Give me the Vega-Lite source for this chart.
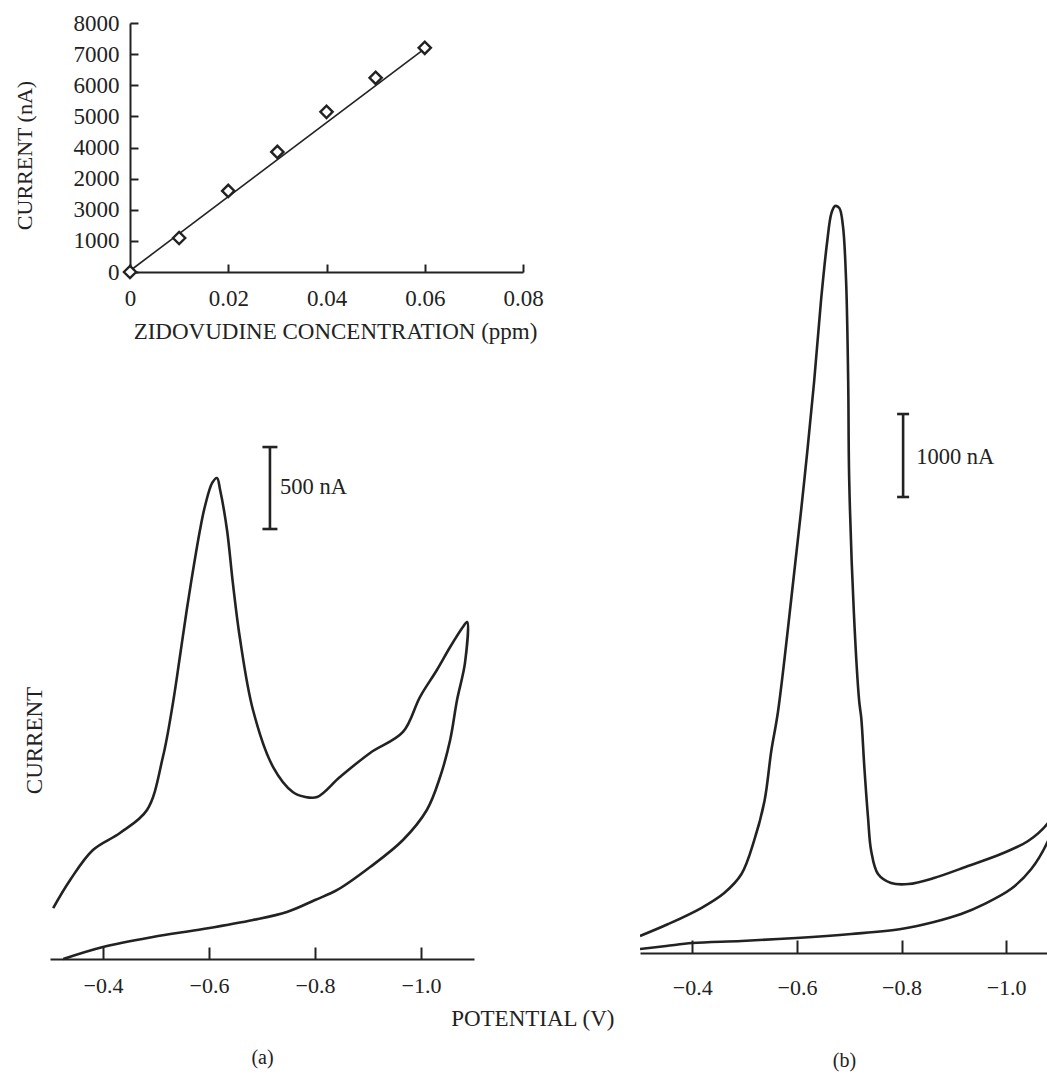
{
  "$schema": "https://vega.github.io/schema/vega-lite/v6.json",
  "background": "white",
  "padding": {"left": 13, "top": 12, "right": 0, "bottom": 2},
  "config": {
    "view": {"stroke": null},
    "font": "Liberation Serif",
    "axis": {"grid": false, "domainColor": "#222", "tickColor": "#222", "labelColor": "#222", "titleColor": "#222", "labelFont": "Liberation Serif", "titleFont": "Liberation Serif", "titleFontWeight": "normal", "labelFontSize": 22, "titleFontSize": 22, "domainWidth": 2, "tickWidth": 2}
  },
  "spacing": 25,
  "hconcat": [
    {
      "columns": 1,
      "align": "none",
      "spacing": 77,
      "concat": [
        {
          "width": 473,
          "height": 249,
          "encoding": {
            "x": {"field": "conc", "type": "quantitative", "scale": {"domain": [0, 0.08], "range": [80, 473], "nice": false, "zero": false},
              "axis": {"title": "ZIDOVUDINE CONCENTRATION (ppm)", "values": [0, 0.02, 0.04, 0.06, 0.08], "labelExpr": "datum.value == 0 ? '0' : format(datum.value, '.2f')", "tickSize": -8, "labelPadding": 23, "titlePadding": 10, "titleX": 285, "labelFontSize": 23, "titleFontSize": 23, "labelFlush": false}},
            "y": {"field": "current", "type": "quantitative", "scale": {"domain": [0, 8000], "nice": false},
              "axis": {"title": "CURRENT (nA)", "offset": -80, "values": [0, 1000, 2000, 3000, 4000, 5000, 6000, 7000, 8000], "labelExpr": "datum.value == 2000 ? '3000' : datum.value == 3000 ? '2000' : format(datum.value, 'd')", "tickSize": -8, "labelPadding": 19, "titlePadding": 37, "labelFontSize": 23, "titleY": 132, "labelFlush": false}}
          },
          "layer": [
            {
              "data": {"values": [{"conc": 0, "current": 40}, {"conc": 0.06, "current": 7180}]},
              "mark": {"type": "line", "color": "#222", "strokeWidth": 1.6}
            },
            {
              "data": {"values": [
                {"conc": 0, "current": 0},
                {"conc": 0.01, "current": 1093},
                {"conc": 0.02, "current": 2605},
                {"conc": 0.03, "current": 3858},
                {"conc": 0.04, "current": 5145},
                {"conc": 0.05, "current": 6238},
                {"conc": 0.06, "current": 7203}
              ]},
              "mark": {"type": "point", "shape": "diamond", "filled": true, "fill": "white", "stroke": "#222", "strokeWidth": 2.4, "size": 150, "opacity": 1}
            }
          ]
        },
        {
          "width": 424,
          "height": 539,
          "encoding": {
            "x": {"field": "v", "type": "quantitative", "scale": {"domain": [-1.1, -0.3], "reverse": true, "nice": false, "zero": false},
              "axis": {"title": "(a)", "values": [-0.4, -0.6, -0.8, -1.0], "format": ".1f", "tickSize": -12, "labelPadding": 28, "titlePadding": 51, "titleFontSize": 20, "labelFlush": false}},
            "y": {"field": "i", "type": "quantitative", "scale": {"domain": [0, 3288], "nice": false, "zero": false},
              "axis": {"title": "CURRENT", "titleFontSize": 23, "labels": false, "ticks": false, "domain": false, "titlePadding": 4, "titleY": 320}}
          },
          "layer": [
            {
              "data": {"values": [
                {"seq": 1, "v": -0.325, "i": 0}, {"seq": 2, "v": -0.4, "i": 73}, {"seq": 3, "v": -0.494, "i": 134},
                {"seq": 4, "v": -0.589, "i": 183}, {"seq": 5, "v": -0.683, "i": 238}, {"seq": 6, "v": -0.747, "i": 287},
                {"seq": 7, "v": -0.8, "i": 360}, {"seq": 8, "v": -0.842, "i": 421}, {"seq": 9, "v": -0.904, "i": 561},
                {"seq": 10, "v": -0.966, "i": 726}, {"seq": 11, "v": -1.011, "i": 909}, {"seq": 12, "v": -1.036, "i": 1110},
                {"seq": 13, "v": -1.055, "i": 1336}, {"seq": 14, "v": -1.068, "i": 1580}, {"seq": 15, "v": -1.083, "i": 1806},
                {"seq": 16, "v": -1.087, "i": 2056},
                {"seq": 17, "v": -1.079, "i": 2025}, {"seq": 18, "v": -1.055, "i": 1903}, {"seq": 19, "v": -1.03, "i": 1763},
                {"seq": 20, "v": -0.998, "i": 1598}, {"seq": 21, "v": -0.966, "i": 1385}, {"seq": 22, "v": -0.904, "i": 1257},
                {"seq": 23, "v": -0.847, "i": 1110}, {"seq": 24, "v": -0.804, "i": 988}, {"seq": 25, "v": -0.78, "i": 990},
                {"seq": 26, "v": -0.758, "i": 1019}, {"seq": 27, "v": -0.721, "i": 1171}, {"seq": 28, "v": -0.683, "i": 1519},
                {"seq": 29, "v": -0.658, "i": 1964}, {"seq": 30, "v": -0.645, "i": 2294}, {"seq": 31, "v": -0.634, "i": 2617},
                {"seq": 32, "v": -0.621, "i": 2861}, {"seq": 33, "v": -0.615, "i": 2934}, {"seq": 34, "v": -0.606, "i": 2904},
                {"seq": 35, "v": -0.592, "i": 2757}, {"seq": 36, "v": -0.583, "i": 2617}, {"seq": 37, "v": -0.57, "i": 2373},
                {"seq": 38, "v": -0.558, "i": 2129}, {"seq": 39, "v": -0.545, "i": 1842}, {"seq": 40, "v": -0.532, "i": 1562},
                {"seq": 41, "v": -0.513, "i": 1232}, {"seq": 42, "v": -0.483, "i": 909}, {"seq": 43, "v": -0.432, "i": 769},
                {"seq": 44, "v": -0.381, "i": 665}, {"seq": 45, "v": -0.338, "i": 482}, {"seq": 46, "v": -0.306, "i": 311}
              ]},
              "mark": {"type": "line", "color": "#222", "strokeWidth": 2.6, "strokeJoin": "round", "interpolate": "catmull-rom"},
              "encoding": {"order": {"field": "seq", "type": "quantitative"}}
            },
            {
              "data": {"values": [{"v": -0.715, "i": 2623, "i2": 3123}]},
              "mark": {"type": "rule", "color": "#222", "strokeWidth": 2.6},
              "encoding": {"y2": {"field": "i2"}}
            },
            {
              "data": {"values": [{"v": -0.715, "i": 2623}, {"v": -0.715, "i": 3123}]},
              "mark": {"type": "tick", "orient": "horizontal", "color": "#222", "size": 15, "thickness": 2.6, "opacity": 1}
            },
            {
              "data": {"values": [{"v": -0.734, "i": 2879, "label": "500 nA"}]},
              "mark": {"type": "text", "align": "left", "baseline": "middle", "fontSize": 22.5, "color": "#222", "font": "Liberation Serif"},
              "encoding": {"text": {"field": "label"}}
            },
            {
              "data": {"values": [{"v": -1.211, "i": -366, "label": "POTENTIAL (V)"}]},
              "mark": {"type": "text", "align": "center", "baseline": "middle", "fontSize": 23, "color": "#222", "font": "Liberation Serif"},
              "encoding": {"text": {"field": "label"}}
            }
          ]
        }
      ]
    },
    {
      "width": 408,
      "height": 930,
      "encoding": {
        "x": {"field": "v", "type": "quantitative", "scale": {"domain": [-1.08, -0.3], "reverse": true, "nice": false, "zero": false},
          "axis": {"title": "(b)", "values": [-0.4, -0.6, -0.8, -1.0], "format": ".1f", "tickSize": -13, "labelPadding": 37, "titlePadding": 52, "titleFontSize": 20, "labelFlush": false}},
        "y": {"field": "i", "type": "quantitative", "scale": {"domain": [0, 11207], "nice": false, "zero": false}, "axis": null}
      },
      "layer": [
        {
          "data": {"values": [
            {"seq": 1, "v": -0.3, "i": 48}, {"seq": 2, "v": -0.35, "i": 84}, {"seq": 3, "v": -0.4, "i": 120},
            {"seq": 4, "v": -0.494, "i": 145}, {"seq": 5, "v": -0.599, "i": 181}, {"seq": 6, "v": -0.704, "i": 229},
            {"seq": 7, "v": -0.799, "i": 289}, {"seq": 8, "v": -0.862, "i": 374}, {"seq": 9, "v": -0.914, "i": 470},
            {"seq": 10, "v": -0.958, "i": 590}, {"seq": 11, "v": -1.009, "i": 771}, {"seq": 12, "v": -1.048, "i": 1012},
            {"seq": 13, "v": -1.08, "i": 1350}, {"seq": 14, "v": -1.1, "i": 1700},
            {"seq": 15, "v": -1.1, "i": 1800}, {"seq": 16, "v": -1.08, "i": 1567},
            {"seq": 17, "v": -1.042, "i": 1350}, {"seq": 18, "v": -0.99, "i": 1193}, {"seq": 19, "v": -0.927, "i": 1048},
            {"seq": 20, "v": -0.862, "i": 904}, {"seq": 21, "v": -0.813, "i": 831}, {"seq": 22, "v": -0.78, "i": 844},
            {"seq": 23, "v": -0.755, "i": 952}, {"seq": 24, "v": -0.742, "i": 1229}, {"seq": 25, "v": -0.736, "i": 1627},
            {"seq": 26, "v": -0.729, "i": 2229}, {"seq": 27, "v": -0.723, "i": 2832}, {"seq": 28, "v": -0.719, "i": 3037},
            {"seq": 29, "v": -0.709, "i": 4085}, {"seq": 30, "v": -0.7, "i": 5688}, {"seq": 31, "v": -0.698, "i": 6893},
            {"seq": 32, "v": -0.694, "i": 8098}, {"seq": 33, "v": -0.688, "i": 8760}, {"seq": 34, "v": -0.681, "i": 8977},
            {"seq": 35, "v": -0.673, "i": 9001}, {"seq": 36, "v": -0.666, "i": 8917}, {"seq": 37, "v": -0.658, "i": 8580},
            {"seq": 38, "v": -0.646, "i": 7857}, {"seq": 39, "v": -0.633, "i": 6893}, {"seq": 40, "v": -0.614, "i": 5688},
            {"seq": 41, "v": -0.593, "i": 4483}, {"seq": 42, "v": -0.564, "i": 2916}, {"seq": 43, "v": -0.551, "i": 2434},
            {"seq": 44, "v": -0.538, "i": 1832}, {"seq": 45, "v": -0.518, "i": 1350}, {"seq": 46, "v": -0.494, "i": 952},
            {"seq": 47, "v": -0.461, "i": 723}, {"seq": 48, "v": -0.417, "i": 542}, {"seq": 49, "v": -0.354, "i": 349},
            {"seq": 50, "v": -0.3, "i": 205}
          ]},
          "mark": {"type": "line", "color": "#222", "strokeWidth": 2.6, "strokeJoin": "round", "clip": true, "interpolate": "catmull-rom"},
          "encoding": {"order": {"field": "seq", "type": "quantitative"}}
        },
        {
          "data": {"values": [{"v": -0.803, "i": 5495, "i2": 6495}]},
          "mark": {"type": "rule", "color": "#222", "strokeWidth": 2.6},
          "encoding": {"y2": {"field": "i2"}}
        },
        {
          "data": {"values": [{"v": -0.803, "i": 5495}, {"v": -0.803, "i": 6495}]},
          "mark": {"type": "tick", "orient": "horizontal", "color": "#222", "size": 12, "thickness": 2.6, "opacity": 1}
        },
        {
          "data": {"values": [{"v": -0.828, "i": 5977, "label": "1000 nA"}]},
          "mark": {"type": "text", "align": "left", "baseline": "middle", "fontSize": 22.5, "color": "#222", "font": "Liberation Serif"},
          "encoding": {"text": {"field": "label"}}
        }
      ]
    }
  ]
}
